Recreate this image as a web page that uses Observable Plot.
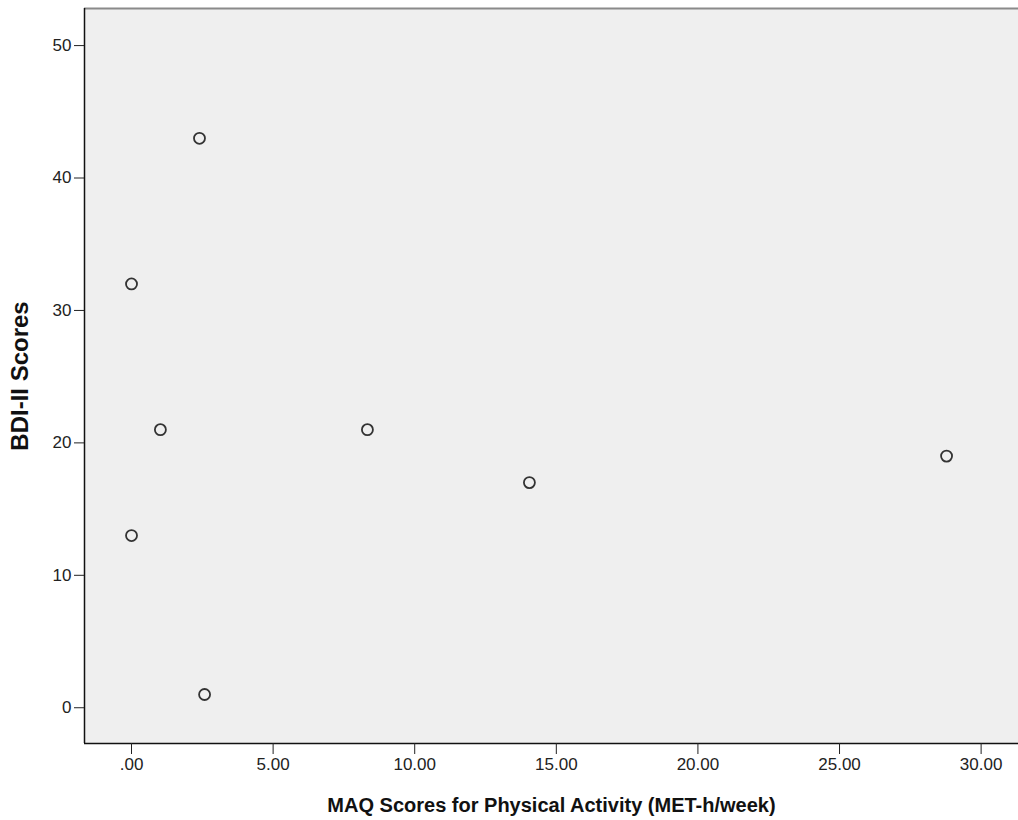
<!DOCTYPE html>
<html>
<head>
<meta charset="utf-8">
<script src="https://cdn.jsdelivr.net/npm/d3@7"></script>
<script src="https://cdn.jsdelivr.net/npm/@observablehq/plot@0.6"></script>
<style>
  html, body { margin: 0; padding: 0; background: #fff; }
  #chart svg { display: block; }
</style>
</head>
<body>
<div id="chart"></div>
<script>
// MAQ scores (MET-h/week) and BDI-II scores per participant
const maqScores = [2.40, 0.00, 1.02, 8.33, 14.05, 28.78, 0.00, 2.58];
const bdiScores = [43, 32, 21, 21, 17, 19, 13, 1];
const xTicks = [0, 5, 10, 15, 20, 25, 30];
const yTicks = [0, 10, 20, 30, 40, 50];
const xTitle = "MAQ Scores for Physical Activity (MET-h/week)";
const yTitle = "BDI-II Scores";

const data = maqScores.map((m, i) => ({maq: m, bdi: bdiScores[i]}));
const xDomain = [-1.66, 31.32];
const yDomain = [-2.7, 52.8];

const fmtX = d => d === 0 ? ".00" : d3.format(".2f")(d);

const chart = Plot.plot({
  width: 1018,
  height: 820,
  marginLeft: 84,
  marginRight: 0,
  marginTop: 8,
  marginBottom: 77,
  style: {fontFamily: "'Liberation Sans', Arial, sans-serif", fontSize: "17px", color: "#222", background: "#fff"},
  x: {domain: xDomain, ticks: xTicks},
  y: {domain: yDomain, ticks: yTicks},
  marks: [
    Plot.frame({fill: "#efefef", stroke: null}),
    Plot.ruleY([yDomain[1]], {stroke: "#8a8a8a", strokeWidth: 2}),
    Plot.ruleX([xDomain[0]], {stroke: "#111", strokeWidth: 1.5}),
    Plot.ruleY([yDomain[0]], {stroke: "#111", strokeWidth: 1.5}),
    Plot.axisX({ticks: xTicks, tickFormat: fmtX, tickSize: 11, tickPadding: 3, stroke: "#222",
      label: xTitle, labelAnchor: "center", labelArrow: "none", labelOffset: 68, fontSize: 17}),
    Plot.axisY({ticks: yTicks, tickSize: 10, tickPadding: 3, stroke: "#222",
      label: yTitle, labelAnchor: "center", labelArrow: "none", labelOffset: 74, fontSize: 17}),
    Plot.dot(data, {x: "maq", y: "bdi", r: 5.5, stroke: "#333", strokeWidth: 1.8, fill: "none"})
  ]
});

d3.select(chart).selectAll('g[aria-label="x-axis label"] text')
  .style("font-weight", "bold").style("font-size", "20px").attr("fill", "#111");
d3.select(chart).selectAll('g[aria-label="y-axis label"] text')
  .style("font-weight", "bold").style("font-size", "24px").attr("fill", "#111");

document.getElementById("chart").appendChild(chart);
</script>
</body>
</html>
